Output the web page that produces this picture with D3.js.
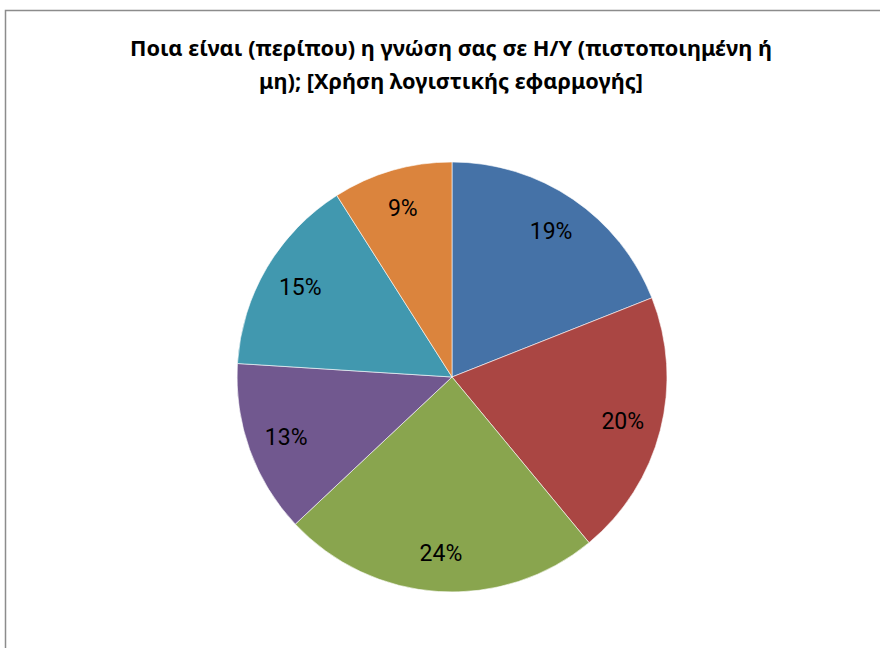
<!DOCTYPE html>
<html>
<head>
<meta charset="utf-8">
<script src="https://cdn.jsdelivr.net/npm/d3@7"></script>
<style>
  body { margin: 0; background: #fff; }
</style>
</head>
<body>
<div id="canvas"></div>
<script>
"use strict"

// slice values (percent), clockwise from 12 o'clock
let categories = ["A", "B", "C", "D", "E", "F"];
let values = [19, 20, 24, 13, 15, 9];
let labels = ["19%", "20%", "24%", "13%", "15%", "9%"];
let colors = ["#4572A7", "#AA4643", "#89A54E", "#71588F", "#4198AF", "#DB843D"];
let titleLines = ["Ποια είναι (περίπου) η γνώση σας σε Η/Υ (πιστοποιημένη ή", "μη); [Χρήση λογιστικής εφαρμογής]"];

let svgWidth = 880;
let svgHeight = 648;
let cx = 452;
let cy = 377;
let radius = 215;

let svg = d3.select("#canvas")
    .append("svg")
    .attr("width", svgWidth)
    .attr("height", svgHeight);

// chart frame (runs off the right and bottom edges)
svg.append("rect")
    .attr("x", 5.5)
    .attr("y", 10.5)
    .attr("width", 900)
    .attr("height", 700)
    .attr("fill", "white")
    .attr("stroke", "#8c8c8c")
    .attr("stroke-width", 1.5);

// title, two centred lines, widths
let titleWidths = [642, 384];
svg.append("g")
    .selectAll("text.title")
    .data(titleLines)
    .join("text")
    .classed("title", true)
    .attr("x", 451)
    .attr("y", function(d, i) { return 56 + i * 33; })
    .attr("text-anchor", "middle")
    .attr("textLength", function(d, i) { return titleWidths[i]; })
    .attr("lengthAdjust", "spacingAndGlyphs")
    .style("font-family", "'Noto Sans', sans-serif")
    .style("font-weight", "bold")
    .style("font-size", "20.5px")
    .style("fill", "#000")
    .text(function(d) { return d; });

let pie = d3.pie().sort(null).value(function(d) { return d; });
let arcs = pie(values);

let arc = d3.arc().innerRadius(0).outerRadius(radius);
let labelArc = d3.arc().innerRadius(radius * 0.82).outerRadius(radius * 0.82);

let g = svg.append("g")
    .attr("transform", "translate(" + cx + "," + cy + ")");

g.selectAll("path.slice")
    .data(arcs)
    .join("path")
    .classed("slice", true)
    .attr("d", arc)
    .attr("fill", function(d, i) { return colors[i]; })
    .attr("stroke", "white")
    .attr("stroke-width", 0.6);

g.selectAll("text.lbl")
    .data(arcs)
    .join("text")
    .classed("lbl", true)
    .attr("transform", function(d) { return "translate(" + labelArc.centroid(d) + ")"; })
    .attr("text-anchor", "middle")
    .attr("dy", "0.35em")
    .style("font-family", "Roboto, sans-serif")
    .style("font-size", "23px")
    .style("fill", "#000")
    .text(function(d, i) { return labels[i]; });
</script>
</body>
</html>
